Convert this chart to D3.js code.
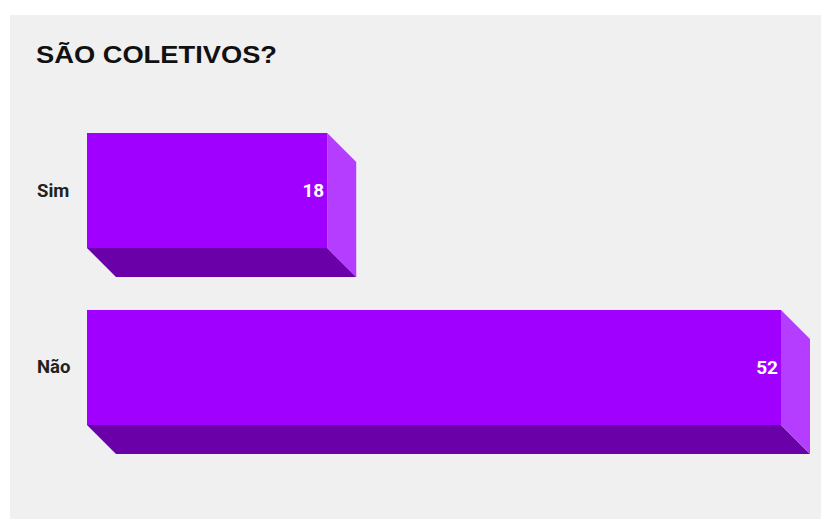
<!DOCTYPE html>
<html>
<head>
<meta charset="utf-8">
<script src="https://cdn.jsdelivr.net/npm/d3@7"></script>
<style>
  html, body { margin: 0; padding: 0; background: #ffffff; }
  svg { display: block; }
</style>
</head>
<body>
<svg id="chart" width="821" height="519"></svg>
<script>
// Survey answers: "São coletivos?"
const categories = ["Sim", "Não"];
const counts = [18, 52];
const titleText = "SÃO COLETIVOS?";

const W = 821, H = 519;
const svg = d3.select("#chart");

// Panel background
svg.append("rect")
  .attr("x", 10).attr("y", 15)
  .attr("width", W - 10).attr("height", H - 15)
  .attr("fill", "#f0f0f0");

svg.append("text")
  .attr("x", 36).attr("y", 63)
  .attr("font-family", "'Liberation Sans', Arial, sans-serif")
  .attr("font-weight", "bold")
  .attr("font-size", 24)
  .attr("textLength", 241)
  .attr("lengthAdjust", "spacingAndGlyphs")
  .attr("fill", "#111")
  .text(titleText);

const x = d3.scaleLinear().domain([0, 52]).range([87, 781]);
const y = d3.scaleBand().domain(categories).range([133, 425]).paddingInner(0.35).paddingOuter(0);

// 3D extrusion depth
const depth = 29;

const data = categories.map((c, i) => ({ cat: c, value: counts[i] }));

const bars = svg.append("g").selectAll("g").data(data).join("g");

bars.each(function(d) {
  const g = d3.select(this);
  const x0 = x(0), x1 = x(d.value);
  const y0 = y(d.cat), y1 = y0 + y.bandwidth();
  const cy = (y0 + y1) / 2;
  // bottom face
  g.append("path")
    .attr("d", `M${x0},${y1} L${x1},${y1} L${x1 + depth},${y1 + depth} L${x0 + depth},${y1 + depth} Z`)
    .attr("fill", "#6a00a8");
  // side face
  g.append("path")
    .attr("d", `M${x1},${y0} L${x1 + depth},${y0 + depth} L${x1 + depth},${y1 + depth} L${x1},${y1} Z`)
    .attr("fill", "#b43dff");
  // front face
  g.append("rect")
    .attr("x", x0).attr("y", y0)
    .attr("width", x1 - x0).attr("height", y1 - y0)
    .attr("fill", "#a000ff");
  // value label
  g.append("text")
    .attr("x", x1 - 3).attr("y", cy)
    .attr("text-anchor", "end")
    .attr("dominant-baseline", "central")
    .attr("font-family", "Roboto, sans-serif")
    .attr("font-weight", "bold")
    .attr("font-size", 19)
    .attr("fill", "#ffffff")
    .text(d.value);
  // category label
  g.append("text")
    .attr("x", 37).attr("y", cy)
    .attr("dominant-baseline", "central")
    .attr("font-family", "Roboto, sans-serif")
    .attr("font-weight", "bold")
    .attr("font-size", 18.5)
    .attr("fill", "#222")
    .text(d.cat);
});
</script>
</body>
</html>
